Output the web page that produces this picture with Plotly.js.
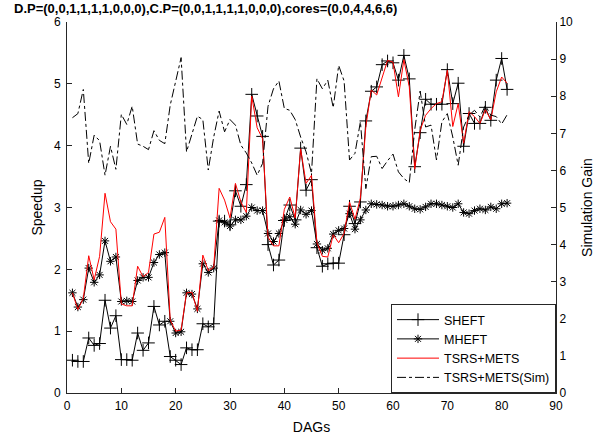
<!DOCTYPE html>
<html>
<head>
<meta charset="utf-8">
<script src="https://cdn.plot.ly/plotly-3.0.1.min.js"></script>
<style>html,body{margin:0;padding:0;background:#fff;}#chart{width:613px;height:438px;}</style>
</head>
<body>
<div id="chart"></div>
<script>
const dags = Array.from({length: 81}, (_, k) => k + 1);

const sheft = [0.53,0.51,0.51,0.89,0.77,0.80,1.50,1.05,1.25,0.54,0.54,0.53,0.97,0.69,0.81,1.40,1.10,1.16,0.59,0.53,0.46,0.73,
0.70,0.70,1.12,1.07,1.12,2.78,2.78,2.72,3.27,3.02,3.37,4.83,4.48,4.15,2.40,2.07,2.15,2.79,3.04,2.80,3.96,3.28,3.45,
2.35,2.05,2.09,2.10,2.10,2.56,3.02,2.74,3.09,4.40,4.88,4.95,5.31,5.37,5.34,5.06,5.46,5.08,3.66,4.21,4.75,4.67,4.67,
4.67,5.23,4.68,5.01,3.99,4.52,4.36,4.36,4.62,4.41,5.06,5.41,4.91];

const mheft = [1.62,1.39,1.51,2.02,1.79,1.91,2.46,2.13,2.20,1.48,1.49,1.48,1.82,1.87,1.87,2.11,2.24,2.27,1.16,0.97,0.99,1.62,
1.60,1.36,2.09,1.95,2.02,2.79,2.76,2.70,2.80,2.80,2.86,3.00,2.95,2.95,2.58,2.45,2.58,2.80,2.85,2.73,2.96,2.89,2.95,
2.41,2.31,2.34,2.57,2.63,2.66,2.90,2.65,2.80,2.96,3.06,3.05,3.04,3.02,3.02,3.04,3.06,3.02,2.98,2.97,3.01,3.06,3.06,
3.04,3.02,3.00,3.06,2.92,2.90,2.95,2.98,2.96,3.01,2.98,3.06,3.07];

const tsrs = [1.62,1.35,1.53,2.22,1.83,2.21,3.23,2.77,2.65,1.44,1.41,1.41,2.05,1.88,1.95,2.57,2.60,2.84,1.18,1.00,1.02,1.62,
1.63,1.32,2.23,1.98,2.03,3.31,3.12,2.83,3.39,3.09,2.92,4.80,4.29,4.11,2.52,2.38,2.38,2.97,3.17,2.83,3.95,3.39,3.52,
2.43,2.21,2.20,2.56,2.43,2.58,3.09,2.81,3.15,4.31,4.90,4.82,5.10,5.38,5.35,4.79,5.39,4.95,3.62,4.25,4.49,4.60,4.68,
4.71,5.22,4.31,4.68,4.04,4.55,4.47,4.36,4.58,4.42,4.87,5.11,5.01];

const tsrsSim = [7.42,7.53,8.18,6.19,6.95,6.80,5.87,6.65,6.03,7.51,7.24,7.73,6.71,6.65,6.56,7.07,6.81,6.72,7.76,8.38,9.04,6.50,
6.99,7.46,7.37,6.01,6.90,7.60,7.04,7.37,7.22,6.68,6.47,6.20,5.87,6.19,7.73,8.20,8.41,7.67,7.62,7.37,6.90,6.50,5.92,
8.47,8.20,8.43,7.69,8.83,8.41,6.28,6.46,7.31,5.51,6.37,6.38,6.05,6.26,6.44,5.96,5.78,5.67,7.10,8.14,7.17,7.22,6.28,
7.31,7.53,6.90,6.14,7.17,7.49,7.62,7.44,7.75,7.49,7.45,7.25,7.50];

const seriesNames = ['SHEFT', 'MHEFT', 'TSRS+METS', 'TSRS+METS(Sim)'];
const titleText = 'D.P=(0,0,1,1,1,1,0,0,0),C.P=(0,0,1,1,1,1,0,0,0),cores=(0,0,4,4,6,6)';

const traces = [
  {x: dags, y: sheft, name: seriesNames[0], type: 'scatter', mode: 'lines+markers',
   line: {color: '#000', width: 1},
   marker: {symbol: 'cross-thin-open', size: 9, color: '#000', line: {color: '#000', width: 1}}},
  {x: dags, y: mheft, name: seriesNames[1], type: 'scatter', mode: 'lines+markers',
   line: {color: '#000', width: 1},
   marker: {symbol: 'asterisk-open', size: 7, color: '#000', line: {color: '#000', width: 1}}},
  {x: dags, y: tsrs, name: seriesNames[2], type: 'scatter', mode: 'lines',
   line: {color: '#ff0000', width: 1}},
  {x: dags, y: tsrsSim, name: seriesNames[3], type: 'scatter', mode: 'lines', yaxis: 'y2',
   line: {color: '#000', width: 1, dash: 'dashdot'}}
];

const axisCommon = {
  showline: true, linecolor: '#262626', linewidth: 1,
  ticks: 'inside', ticklen: 5, tickcolor: '#262626', tickwidth: 1,
  showgrid: false, zeroline: false,
  tickfont: {family: 'Liberation Sans, Arial, sans-serif', size: 12, color: '#000'}
};

const layout = {
  width: 613, height: 438,
  margin: {l: 67, r: 57, t: 22, b: 45, pad: 0},
  paper_bgcolor: '#fff', plot_bgcolor: '#fff',
  font: {family: 'Liberation Sans, Arial, sans-serif', size: 12, color: '#000'},
  title: {text: titleText, x: 14/613, xref: 'container', xanchor: 'left',
          y: 1 - 8/438, yref: 'container', yanchor: 'middle',
          font: {family: 'Liberation Sans, Arial, sans-serif', size: 13, weight: 'bold', color: '#000'}},
  xaxis: Object.assign({}, axisCommon, {range: [0, 90], dtick: 10, tick0: 0, ticklabelstandoff: 2,
          title: {text: 'DAGs', font: {size: 14}, standoff: 9}}),
  yaxis: Object.assign({}, axisCommon, {range: [0, 6], dtick: 1, tick0: 0, ticklabelstandoff: 3,
          title: {text: 'Speedup', font: {size: 14}, standoff: 8}}),
  yaxis2: Object.assign({}, axisCommon, {range: [0, 10], dtick: 1, tick0: 0,
          overlaying: 'y', side: 'right', anchor: 'x',
          title: {text: 'Simulation Gain', font: {size: 14}, standoff: 10}}),
  legend: {x: 1, xanchor: 'right', y: 0, yanchor: 'bottom',
           bgcolor: '#fff', bordercolor: '#262626', borderwidth: 1,
           font: {size: 12.5}, tracegroupgap: 0, itemwidth: 42},
  showlegend: true
};

Plotly.newPlot('chart', traces, layout, {displayModeBar: false, staticPlot: true});
</script>
</body>
</html>
